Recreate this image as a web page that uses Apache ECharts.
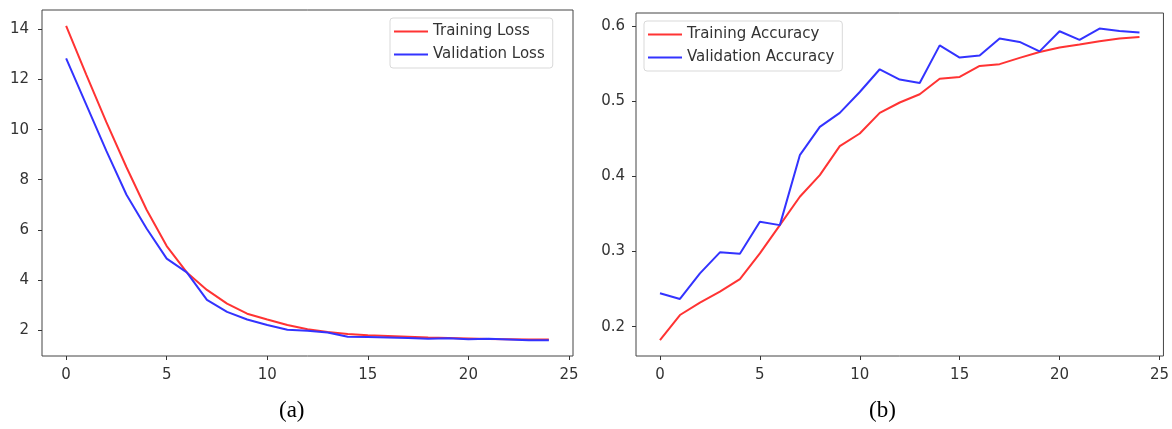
<!DOCTYPE html>
<html>
<head>
<meta charset="utf-8">
<script src="https://cdn.jsdelivr.net/npm/echarts@6/dist/echarts.min.js"></script>
<style>
html,body{margin:0;padding:0;background:#fff;}
#chart{width:1172px;height:429px;}
</style>
</head>
<body>
<div id="chart"></div>
<script>
const epochs = [0,1,2,3,4,5,6,7,8,9,10,11,12,13,14,15,16,17,18,19,20,21,22,23,24];
const trainLoss = [14.15,12.2,10.3,8.5,6.8,5.35,4.3,3.6,3.05,2.65,2.42,2.2,2.03,1.92,1.84,1.79,1.76,1.73,1.70,1.68,1.66,1.64,1.63,1.62,1.62];
const valLoss = [12.85,11.0,9.15,7.4,6.05,4.85,4.3,3.2,2.72,2.42,2.2,2.01,1.97,1.9,1.73,1.72,1.70,1.68,1.65,1.67,1.63,1.65,1.62,1.59,1.59];
const trainAcc = [0.182,0.2155,0.232,0.2465,0.2633,0.2974,0.335,0.3727,0.4015,0.44,0.4568,0.4842,0.498,0.509,0.5296,0.532,0.5467,0.549,0.5573,0.5652,0.571,0.575,0.5794,0.583,0.5852];
const valAcc = [0.2444,0.2368,0.2709,0.2988,0.297,0.3395,0.335,0.428,0.4656,0.4842,0.512,0.5422,0.5285,0.524,0.574,0.5578,0.5604,0.583,0.5785,0.566,0.5927,0.5812,0.5963,0.5931,0.591];
const xTicks = [0,5,10,15,20,25];
const lossTicks = [2,4,6,8,10,12,14];
const accTicks = [0.2,0.3,0.4,0.5,0.6];
const captions = ['(a)','(b)'];

const RED = '#ff3333', BLUE = '#3333ff';
const FONT = 'DejaVu Sans';
const pairs = arr => epochs.map((e,i)=>[e,arr[i]]);

function xAxis(gi){
  return {
    type:'value', gridIndex:gi, min:-1.2, max:25.2, position:'bottom',
    splitLine:{show:false},
    axisLine:{show:false, onZero:false},
    axisTick:{show:true, inside:false, length:4, customValues:xTicks, lineStyle:{color:'#333',width:1}},
    axisLabel:{show:true, customValues:xTicks, margin:12, fontFamily:FONT, fontSize:15, color:'#333'}
  };
}
function yAxis(gi,min,max,ticks,fmt,margin){
  return {
    type:'value', gridIndex:gi, min:min, max:max, position:'left',
    splitLine:{show:false},
    axisLine:{show:false, onZero:false},
    axisTick:{show:true, inside:false, length:4, customValues:ticks, lineStyle:{color:'#333',width:1}},
    axisLabel:{show:true, customValues:ticks, margin:margin, fontFamily:FONT, fontSize:15, color:'#333', formatter:fmt}
  };
}
function legend(names,left,top){
  return {
    data:names, orient:'vertical', left:left, top:top,
    icon:'rect', itemWidth:34, itemHeight:2, itemGap:8, itemTextGap:13,
    padding:[6,8,6,4],
    borderColor:'#d9d9d9', borderWidth:1, borderRadius:3, backgroundColor:'#fff',
    textStyle:{fontFamily:FONT, fontSize:15, color:'#333'}
  };
}
function line(name,data,color,xi){
  return {
    name:name, type:'line', xAxisIndex:xi, yAxisIndex:xi,
    data:pairs(data), showSymbol:false, symbol:'none',
    lineStyle:{color:color,width:2}, itemStyle:{color:color},
    animation:false, z:3
  };
}

const chart = echarts.init(document.getElementById('chart'), null, {renderer:'canvas'});
chart.setOption({
  animation:false,
  backgroundColor:'#fff',
  grid:[
    {left:42, top:10, width:531, height:346, show:true, borderColor:'#444', borderWidth:1, backgroundColor:'transparent'},
    {left:636, top:13, width:528, height:343, show:true, borderColor:'#444', borderWidth:1, backgroundColor:'transparent'}
  ],
  xAxis:[xAxis(0), xAxis(1)],
  yAxis:[
    yAxis(0,0.96,14.78,lossTicks,v=>String(v),13),
    yAxis(1,0.161,0.617,accTicks,v=>v.toFixed(1),11)
  ],
  legend:[
    legend(['Training Loss','Validation Loss'],390,18),
    legend(['Training Accuracy','Validation Accuracy'],644,21)
  ],
  series:[
    line('Training Loss',trainLoss,RED,0),
    line('Validation Loss',valLoss,BLUE,0),
    line('Training Accuracy',trainAcc,RED,1),
    line('Validation Accuracy',valAcc,BLUE,1)
  ],
  graphic:[
    {type:'text', left:279, top:399, style:{text:captions[0], font:'23px "Liberation Serif"', fill:'#000'}},
    {type:'text', left:869, top:399, style:{text:captions[1], font:'23px "Liberation Serif"', fill:'#000'}}
  ]
});
</script>
</body>
</html>
